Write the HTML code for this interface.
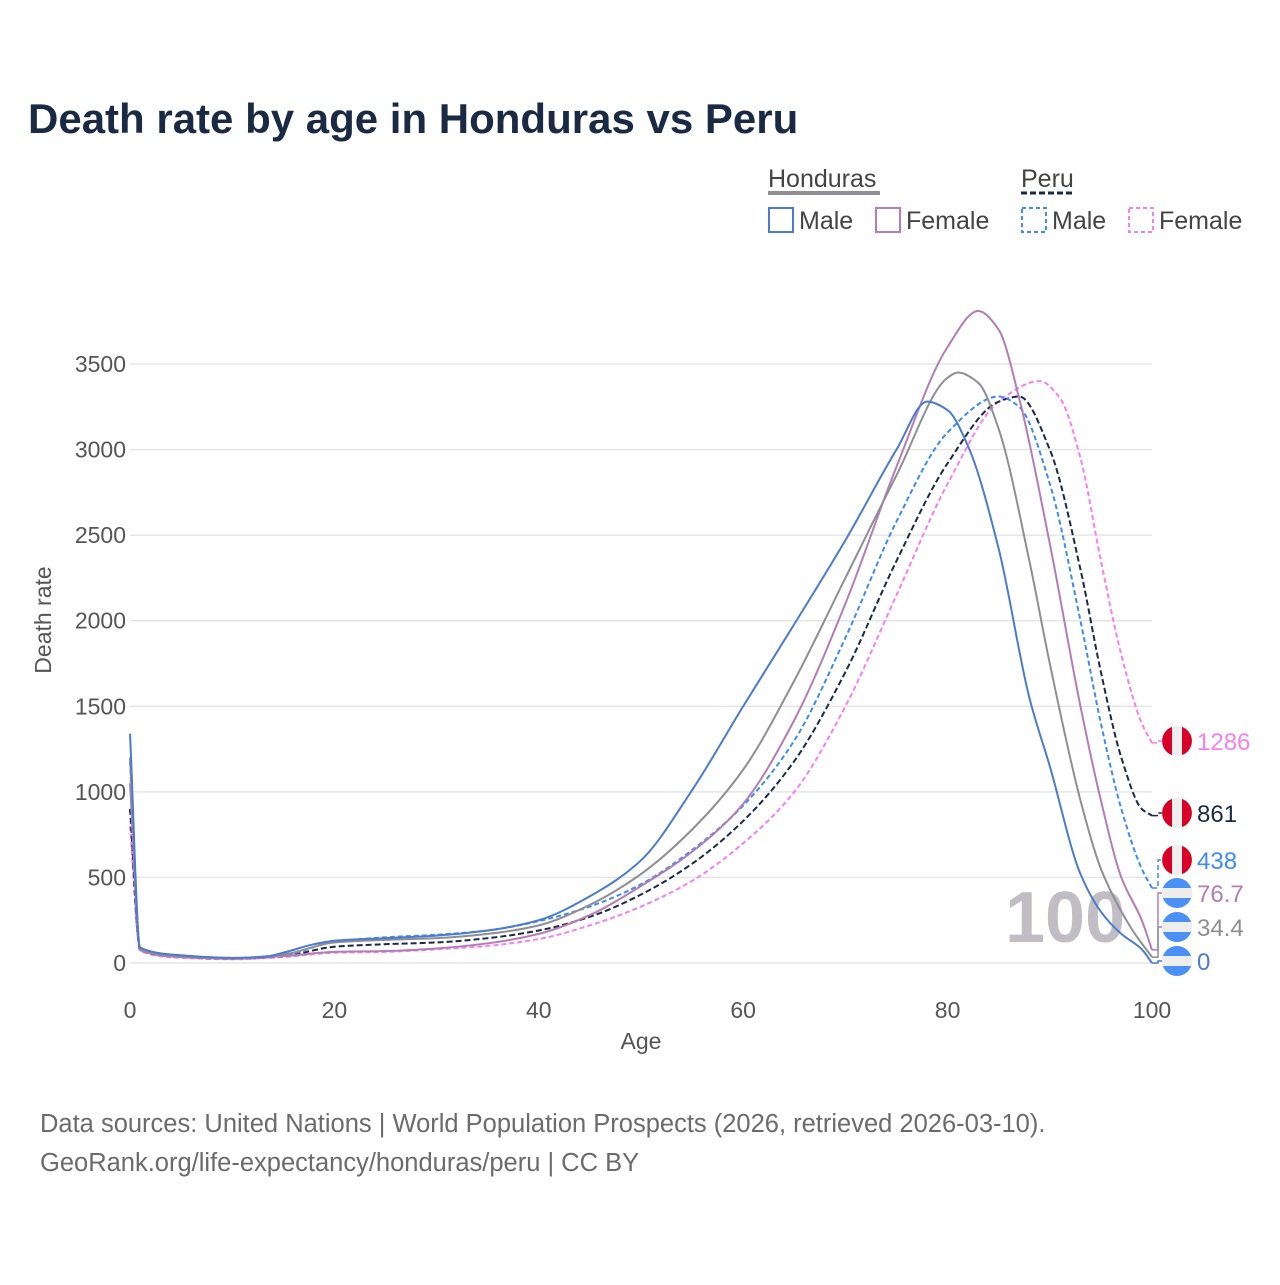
<!DOCTYPE html>
<html><head><meta charset="utf-8"><style>
body{margin:0;background:#fff;font-family:"Liberation Sans",sans-serif}
svg text{font-family:"Liberation Sans",sans-serif}
</style></head><body>
<svg id="c" width="1280" height="1280" viewBox="0 0 1280 1280">
<text x="28" y="133" font-size="42" font-weight="bold" fill="#1b2a44">Death rate by age in Honduras vs Peru</text>
<g>
<text x="768" y="187" font-size="25" fill="#444">Honduras</text>
<line x1="768" y1="193" x2="880" y2="193" stroke="#8e8e93" stroke-width="4"/>
<text x="1021" y="187" font-size="25" fill="#444">Peru</text>
<line x1="1021" y1="193" x2="1074" y2="193" stroke="#1b2a44" stroke-width="3" stroke-dasharray="6,3"/>
<g><rect x="769" y="208" width="24" height="24" fill="none" stroke="#4a7bd0" stroke-width="2"/><text x="799" y="229" font-size="25" fill="#444">Male</text></g>
<g><rect x="876" y="208" width="24" height="24" fill="none" stroke="#b47cb5" stroke-width="2"/><text x="906" y="229" font-size="25" fill="#444">Female</text></g>
<g><rect x="1022" y="208" width="24" height="24" fill="none" stroke="#3d8af7" stroke-width="2" stroke-dasharray="4,3"/><text x="1052" y="229" font-size="25" fill="#444">Male</text></g>
<g><rect x="1129" y="208" width="24" height="24" fill="none" stroke="#f97ef0" stroke-width="2" stroke-dasharray="4,3"/><text x="1159" y="229" font-size="25" fill="#444">Female</text></g>
</g>
<g id="grid"></g>
<text x="1005" y="942" font-size="72" font-weight="bold" fill="#c0bec4">100</text>
<g id="series"></g>
<g id="labels"></g>
<text x="51" y="620" font-size="23" fill="#555" transform="rotate(-90 51 620)" text-anchor="middle">Death rate</text>
<text x="641" y="1049" font-size="23" fill="#555" text-anchor="middle">Age</text>
<text x="40" y="1132" font-size="25.5" fill="#6b6b6b">Data sources: United Nations | World Population Prospects (2026, retrieved 2026-03-10).</text>
<text x="40" y="1171" font-size="25.5" fill="#6b6b6b">GeoRank.org/life-expectancy/honduras/peru | CC BY</text>
</svg>
<script>
const yTicks=[0,500,1000,1500,2000,2500,3000,3500];
const xTicks=[0,20,40,60,80,100];
const hnMaleAges=[0,1,5,10,13,15,18,20,25,30,35,40,45,50,55,60,65,70,75,78,80,82,85,88,90,93,95,97,99,100];
const hnMaleVals=[1340,90,45,30,35,60,110,130,145,160,190,250,390,600,1010,1500,1980,2470,3000,3280,3230,3020,2420,1550,1150,520,300,170,80,0];
const hnTotAges=[0,1,5,10,15,20,25,30,35,40,45,50,55,60,65,70,75,80,81,83,85,88,90,93,95,98,100];
const hnTotVals=[1200,80,40,28,50,120,135,145,170,220,340,520,780,1130,1650,2250,2850,3420,3450,3390,3120,2350,1750,950,550,200,34.4];
const hnFemAges=[0,1,5,10,15,20,25,30,35,40,45,50,55,60,65,70,75,80,83,85,87,90,93,95,97,99,100];
const hnFemVals=[1050,75,35,25,40,65,70,85,115,170,280,450,650,930,1420,2100,2900,3600,3810,3700,3300,2450,1500,950,500,250,76.7];
const peTotAges=[0,1,5,10,15,20,25,30,35,40,45,50,55,60,65,70,75,80,85,87,90,93,95,97,99,100];
const peTotVals=[900,75,35,25,40,95,110,120,145,190,270,400,580,830,1180,1700,2350,2920,3280,3310,3000,2300,1700,1200,900,861];
const peMaleAges=[0,1,5,10,15,20,25,30,35,40,45,50,55,60,65,70,75,80,85,87,90,93,95,97,99,100];
const peMaleVals=[1180,90,40,28,45,125,150,165,190,245,330,460,660,920,1300,1900,2580,3100,3310,3250,2800,2000,1400,900,550,438];
const peFemAges=[0,1,5,10,15,20,25,30,35,40,45,50,55,60,65,70,75,80,85,89,91,93,95,97,99,100];
const peFemVals=[800,70,30,22,35,60,65,80,100,140,220,330,480,700,1000,1500,2150,2800,3280,3400,3300,2950,2350,1800,1400,1286];
const endLabels=["1286","861","438","76.7","34.4","0"];
const NS="http://www.w3.org/2000/svg";
const X=a=>130+a*10.22, Y=v=>963-v*(599/3500);
function mk(t,at,p){const e=document.createElementNS(NS,t);for(const k in at)e.setAttribute(k,at[k]);p.appendChild(e);return e;}
const grid=document.getElementById('grid');
yTicks.forEach(v=>{const l=mk('line',{x1:130,x2:1152,y1:Y(v),y2:Y(v),stroke:'#e6e6e6','stroke-width':1.5},grid);


const t=mk('text',{x:126,y:Y(v)+8,'font-size':23,fill:'#555','text-anchor':'end'},grid);t.textContent=v;

});
xTicks.forEach(a=>{const t=mk('text',{x:X(a),y:1018,'font-size':23,fill:'#555','text-anchor':'middle'},grid);t.textContent=a;

});
function path(ages,vals){const p=ages.map((a,i)=>[X(a),Y(vals[i])]);const n=p.length;
const d=[],m=[];for(let i=0;i<n-1;i++)d.push((p[i+1][1]-p[i][1])/(p[i+1][0]-p[i][0]));
m[0]=d[0];m[n-1]=d[n-2];
for(let i=1;i<n-1;i++){if(d[i-1]*d[i]<=0)m[i]=0;else{const h0=p[i][0]-p[i-1][0],h1=p[i+1][0]-p[i][0];const w1=2*h1+h0,w2=h1+2*h0;m[i]=(w1+w2)/(w1/d[i-1]+w2/d[i]);}}
let s='M'+p[0][0]+','+p[0][1];
for(let i=0;i<n-1;i++){const h=(p[i+1][0]-p[i][0])/3;s+=' C'+(p[i][0]+h)+','+(p[i][1]+m[i]*h)+' '+(p[i+1][0]-h)+','+(p[i+1][1]-m[i+1]*h)+' '+p[i+1][0]+','+p[i+1][1];}
return s;}
const series=[
[peFemAges,peFemVals,'#f97ef0','5,3','peru-female',true],
[peTotAges,peTotVals,'#1b2a44','6,3','peru-total',true],
[peMaleAges,peMaleVals,'#3d8af7','5,3','peru-male',true],
[hnFemAges,hnFemVals,'#b47cb5','','honduras-female',false],
[hnTotAges,hnTotVals,'#8e8e93','','honduras-total',false],
[hnMaleAges,hnMaleVals,'#4a7bd0','','honduras-male',false]];
const labYs=[741,813,860,893,927,961];
const sg=document.getElementById('series'),lg=document.getElementById('labels');
series.forEach((s,i)=>{const e=mk('path',{d:path(s[0],s[1]),fill:'none',stroke:s[2],'stroke-width':2,'stroke-dasharray':s[3]},sg);


const yEnd=Y(s[1][s[1].length-1]),ly=labYs[i];
mk('path',{d:`M1152,${yEnd} L1158,${yEnd} L1158,${ly} L1162,${ly}`,fill:'none',stroke:s[2],'stroke-width':1.5,'stroke-dasharray':s[3]},lg);
const g=mk('g',{},lg);


const cx=1177;
if(s[5]){mk('circle',{cx,cy:ly,r:15,fill:'#eee'},g);mk('path',{d:`M${cx-5},${ly-14.1} A15,15 0 0 0 ${cx-5},${ly+14.1}Z`,fill:'#d80027'},g);mk('path',{d:`M${cx+5},${ly-14.1} A15,15 0 0 1 ${cx+5},${ly+14.1}Z`,fill:'#d80027'},g);}
else{mk('circle',{cx,cy:ly,r:15,fill:'#4a90f5'},g);mk('rect',{x:cx-15,y:ly-5,width:30,height:10,fill:'#eee'},g);}
const t=mk('text',{x:1197,y:ly+9,'font-size':24,fill:s[2]},g);t.textContent=endLabels[i];});
</script>
</body></html>
